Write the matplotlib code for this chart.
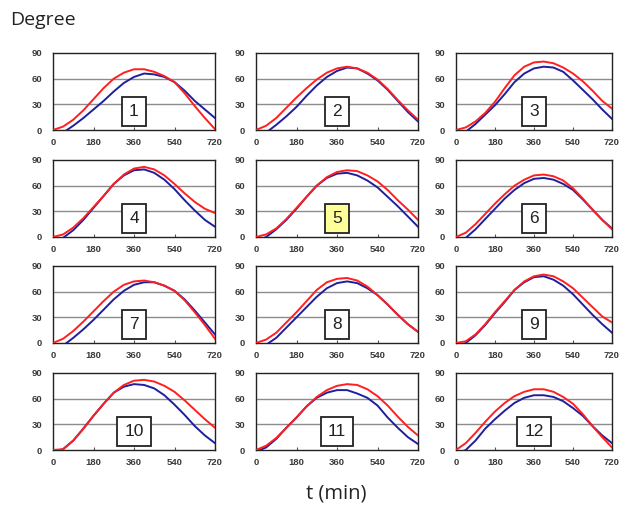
import matplotlib.pyplot as plt
import matplotlib

matplotlib.rcParams['font.family'] = ['Open Sans', 'DejaVu Sans']

# time axis (min)
t = [0, 45, 90, 135, 180, 225, 270, 315, 360, 405, 450, 495, 540, 585, 630, 675, 720]

# red / blue curves of the 12 panels (degree)
red_1 = [0, 4, 12, 23, 36, 49, 60, 67, 71, 71, 68, 63, 56, 43, 28, 14, 1]
blue_1 = [-9, -3, 5, 14, 24, 34, 45, 55, 62, 66, 65, 62, 56, 46, 34, 24, 14]
red_2 = [0, 5, 14, 26, 38, 49, 59, 67, 72, 74, 72, 67, 59, 48, 35, 23, 12]
blue_2 = [-8, -3, 6, 16, 27, 40, 52, 62, 69, 73, 72, 66, 58, 47, 34, 21, 10]
red_3 = [0, 3, 10, 20, 33, 49, 64, 74, 79, 80, 78, 73, 66, 57, 46, 34, 25]
blue_3 = [-8, -2, 7, 18, 29, 42, 56, 66, 72, 74, 73, 68, 58, 47, 36, 24, 13]
red_4 = [0, 3, 11, 22, 35, 48, 62, 73, 80, 82, 79, 72, 62, 51, 41, 33, 28]
blue_4 = [-6, -1, 8, 20, 34, 48, 62, 72, 78, 79, 75, 67, 56, 43, 31, 20, 12]
red_5 = [0, 3, 10, 21, 34, 47, 60, 70, 76, 78, 77, 72, 65, 55, 43, 32, 20]
blue_5 = [-5, 0, 9, 20, 33, 47, 60, 69, 74, 75, 72, 66, 58, 47, 36, 24, 12]
red_6 = [0, 5, 15, 27, 39, 50, 60, 67, 72, 73, 71, 66, 57, 45, 32, 20, 9]
blue_6 = [-7, -1, 9, 21, 33, 45, 55, 63, 68, 69, 67, 62, 55, 44, 32, 20, 10]
red_7 = [0, 5, 14, 25, 37, 49, 60, 68, 72, 73, 71, 67, 61, 50, 36, 21, 5]
blue_7 = [-9, -3, 6, 16, 27, 39, 51, 61, 68, 71, 71, 67, 61, 51, 38, 24, 10]
red_8 = [0, 4, 12, 24, 36, 49, 62, 71, 75, 76, 73, 66, 56, 45, 33, 22, 13]
blue_8 = [-8, -2, 6, 18, 30, 42, 54, 64, 70, 72, 70, 64, 56, 45, 33, 22, 13]
red_9 = [0, 2, 10, 22, 36, 49, 62, 72, 78, 80, 78, 72, 64, 53, 42, 31, 24]
blue_9 = [-4, 0, 9, 21, 35, 48, 62, 71, 77, 78, 74, 67, 57, 45, 33, 22, 12]
red_10 = [0, 1, 11, 25, 40, 54, 67, 76, 81, 82, 80, 75, 68, 58, 47, 36, 26]
blue_10 = [-3, 1, 11, 25, 40, 54, 67, 74, 77, 76, 72, 64, 53, 41, 28, 17, 8]
red_11 = [0, 5, 14, 26, 38, 51, 62, 70, 75, 77, 76, 71, 63, 52, 39, 27, 17]
blue_11 = [-2, 3, 13, 26, 38, 51, 61, 67, 70, 70, 66, 61, 52, 38, 26, 15, 7]
red_12 = [0, 8, 20, 33, 45, 55, 63, 68, 71, 71, 68, 62, 54, 42, 28, 15, 3]
blue_12 = [-5, 0, 11, 25, 36, 46, 55, 61, 64, 64, 62, 57, 49, 40, 28, 17, 8]

reds = [red_1, red_2, red_3, red_4, red_5, red_6, red_7, red_8, red_9, red_10, red_11, red_12]
blues = [blue_1, blue_2, blue_3, blue_4, blue_5, blue_6, blue_7, blue_8, blue_9, blue_10, blue_11, blue_12]
panel_labels = ['1', '2', '3', '4', '5', '6', '7', '8', '9', '10', '11', '12']

W, H = 621, 509
fig = plt.figure(figsize=(W / 100, H / 100), dpi=100)

col_left = [53, 256, 456]
col_w = [162, 162, 156]
row_top = [53, 160, 266, 373]
ax_h = 77

for i in range(12):
    r, c = divmod(i, 3)
    x0 = col_left[c]
    y0 = row_top[r]
    ax = fig.add_axes([x0 / W, 1 - (y0 + ax_h) / H, col_w[c] / W, ax_h / H])
    for y in [30, 60]:
        ax.axhline(y, color='#8c8c8c', lw=1.0, zorder=1)
    ax.plot(t, blues[i], color='#1f1f9e', lw=1.4, zorder=3)
    ax.plot(t, reds[i], color='#ff1f1f', lw=1.4, zorder=4)
    ax.set_xlim(0, 720)
    ax.set_ylim(0, 90)
    ax.set_xticks([0, 180, 360, 540, 720])
    ax.set_yticks([0, 30, 60, 90])
    ax.tick_params(axis='x', direction='in', length=2, pad=6, labelsize=6.8,
                   labelcolor='#3a3a3a', color='#555555')
    ax.tick_params(axis='y', length=0, pad=8, labelsize=6.8, labelcolor='#3a3a3a')
    for lab in ax.get_xticklabels() + ax.get_yticklabels():
        lab.set_fontweight('bold')
        lab.set_family(['Liberation Sans', 'DejaVu Sans'])
    for sp in ax.spines.values():
        sp.set_color('#222222')
        sp.set_linewidth(1.0)
    face = '#ffff99' if panel_labels[i] == '5' else 'white'
    ax.text(360, 22, panel_labels[i], ha='center', va='center', fontsize=12.5,
            color='#222222', zorder=6, family=['Liberation Sans', 'DejaVu Sans'],
            bbox=dict(boxstyle='square,pad=0.4', facecolor=face,
                      edgecolor='#222222', lw=1.3))

fig.text(10 / W, 1 - 20 / H, 'Degree', fontsize=14, ha='left', va='center', color='#222222')
fig.text(336 / W, 1 - 494 / H, 't (min)', fontsize=14.5, ha='center', va='center', color='#222222')

fig.savefig('out.png', dpi=100)
